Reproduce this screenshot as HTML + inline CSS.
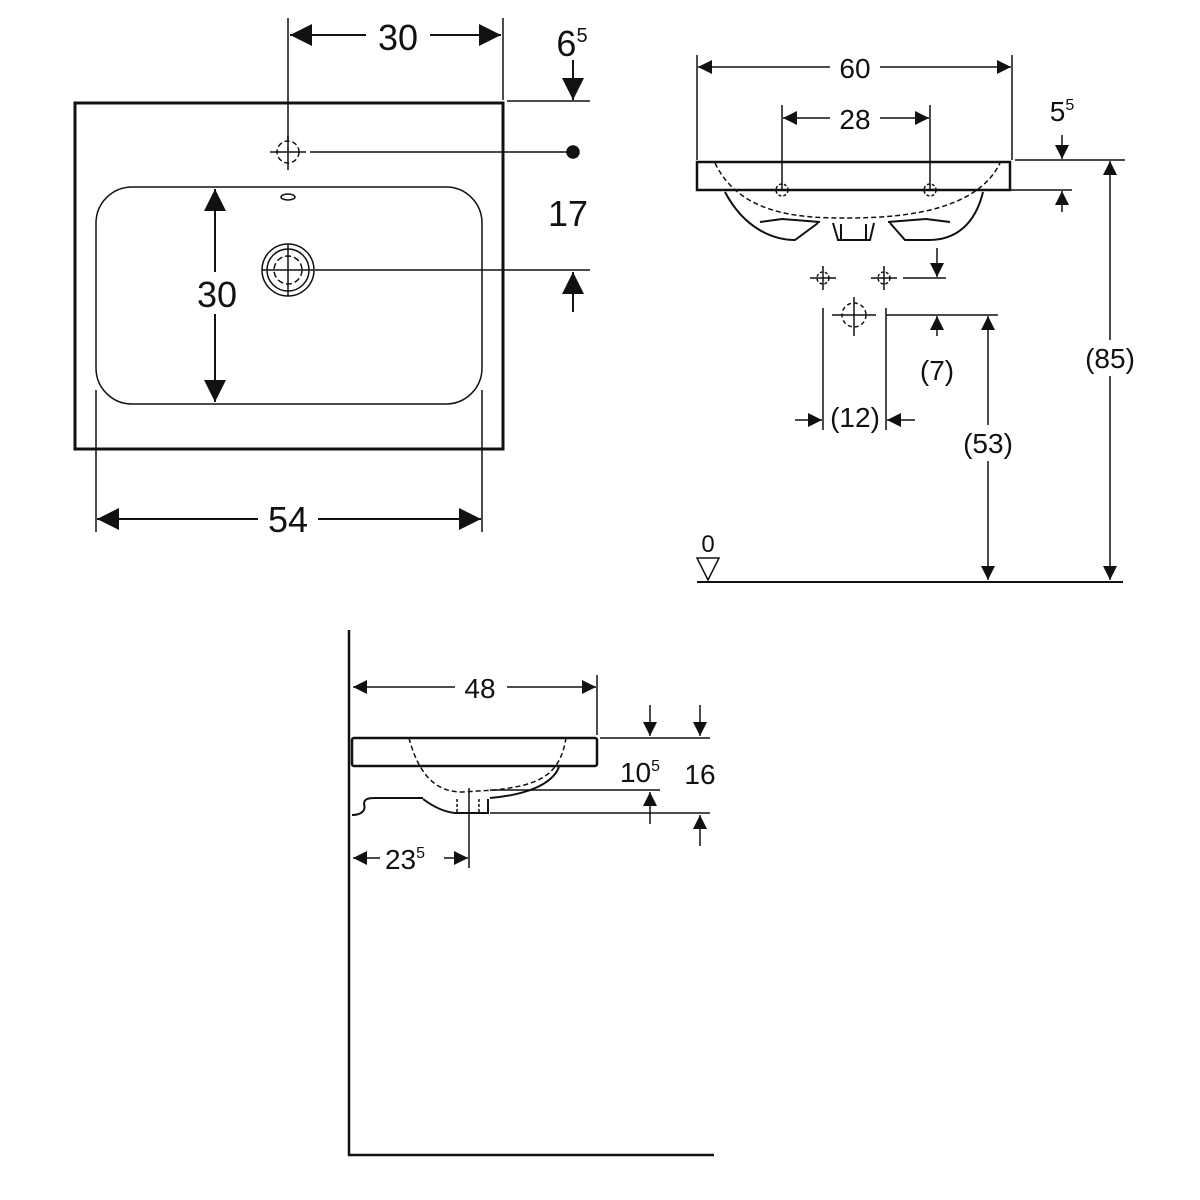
<!DOCTYPE html>
<html><head><style>html,body{margin:0;padding:0;background:#fff}svg{display:block}</style></head><body>
<svg width="1200" height="1200" viewBox="0 0 1200 1200" xmlns="http://www.w3.org/2000/svg" font-family="Liberation Sans, sans-serif" fill="none" stroke="#111">
<defs>
<marker id="a" viewBox="0 0 10 10" refX="10" refY="5" markerWidth="18" markerHeight="14" markerUnits="userSpaceOnUse" orient="auto-start-reverse"><path d="M0,0 L10,5 L0,10z" fill="#111" stroke="none"/></marker>
<marker id="b" viewBox="0 0 10 10" refX="10" refY="5" markerWidth="26" markerHeight="22" markerUnits="userSpaceOnUse" orient="auto-start-reverse"><path d="M0,0 L10,5 L0,10z" fill="#111" stroke="none"/></marker>
</defs>
<!-- TOP LEFT -->
<g stroke-width="1.5">
<rect x="75" y="103" width="428" height="346" stroke-width="3"/>
<rect x="96" y="187" width="386" height="217" rx="36" stroke-width="1.5"/>
<line x1="288" y1="18" x2="288" y2="140"/><line x1="503" y1="18" x2="503" y2="100"/>
<line x1="290" y1="35" x2="501" y2="35" marker-start="url(#b)" marker-end="url(#b)" stroke-width="2"/>
<rect x="366" y="16" width="64" height="40" fill="#fff" stroke="none"/>
<circle cx="288" cy="152" r="11" stroke-dasharray="5 3"/>
<line x1="270" y1="152" x2="306" y2="152"/><line x1="288" y1="136" x2="288" y2="170"/>
<line x1="310" y1="152" x2="573" y2="152"/><circle cx="573" cy="152" r="6" fill="#111"/>
<ellipse cx="288" cy="197" rx="7" ry="3"/>
<circle cx="288" cy="270" r="26"/><circle cx="288" cy="270" r="21"/><circle cx="288" cy="270" r="14" stroke-dasharray="6 3"/>
<line x1="262" y1="270" x2="314" y2="270"/><line x1="288" y1="244" x2="288" y2="296"/>
<line x1="507" y1="101" x2="590" y2="101"/>
<line x1="573" y1="60" x2="573" y2="100" marker-end="url(#b)" stroke-width="2"/>
<line x1="315" y1="270" x2="590" y2="270"/>
<line x1="573" y1="312" x2="573" y2="272" marker-end="url(#b)" stroke-width="2"/>
<line x1="215" y1="189" x2="215" y2="402" marker-start="url(#b)" marker-end="url(#b)" stroke-width="2"/>
<rect x="188" y="272" width="56" height="42" fill="#fff" stroke="none"/>
<line x1="96" y1="390" x2="96" y2="532"/><line x1="482" y1="390" x2="482" y2="532"/>
<line x1="97" y1="519" x2="481" y2="519" marker-start="url(#b)" marker-end="url(#b)" stroke-width="2"/>
<rect x="258" y="500" width="60" height="40" fill="#fff" stroke="none"/>
</g>
<g fill="#111" stroke="none" font-size="36" text-anchor="middle">
<text x="398" y="50">30</text>
<text x="572" y="56">6<tspan font-size="20" dy="-14">5</tspan></text>
<text x="568" y="226">17</text>
<text x="217" y="307">30</text>
<text x="288" y="532">54</text>
</g>
<!-- TOP RIGHT -->
<g stroke-width="1.5">
<line x1="697" y1="55" x2="697" y2="160"/><line x1="1012" y1="55" x2="1012" y2="160"/>
<line x1="698" y1="67" x2="1011" y2="67" marker-start="url(#a)" marker-end="url(#a)" stroke-width="1.5"/>
<rect x="830" y="52" width="50" height="30" fill="#fff" stroke="none"/>
<line x1="782" y1="105" x2="782" y2="190"/><line x1="930" y1="105" x2="930" y2="190"/>
<line x1="783" y1="118" x2="929" y2="118" marker-start="url(#a)" marker-end="url(#a)"/>
<rect x="830" y="103" width="50" height="30" fill="#fff" stroke="none"/>
<rect x="697" y="162" width="313" height="28" stroke-width="2.5"/>
<path d="M715,163 C740,215 800,218 845,218 C890,218 975,215 1000,163" stroke-dasharray="5 3"/>
<path d="M725,192 C745,230 775,240 795,240 L818,223 M760,222 L782,219 L820,222 M833,223 L838,240 L870,240 L874,223 M841,224 L841,240 M866,224 L866,240 M890,223 L905,240 L929,240 C955,240 975,225 983,192 M888,222 L926,219 L950,222" stroke-width="2"/>
<circle cx="782" cy="190" r="6" stroke-dasharray="3 2"/><circle cx="930" cy="190" r="6" stroke-dasharray="3 2"/>
<line x1="945" y1="190" x2="1072" y2="190"/><line x1="1015" y1="160" x2="1125" y2="160"/>
<line x1="1062" y1="135" x2="1062" y2="159" marker-end="url(#a)"/>
<line x1="1062" y1="212" x2="1062" y2="191" marker-end="url(#a)"/>
<g><circle cx="823" cy="278" r="6" stroke-dasharray="3 2"/><line x1="810" y1="278" x2="836" y2="278"/><line x1="823" y1="266" x2="823" y2="290"/></g>
<g><circle cx="884" cy="278" r="6" stroke-dasharray="3 2"/><line x1="871" y1="278" x2="897" y2="278"/><line x1="884" y1="266" x2="884" y2="290"/></g>
<line x1="903" y1="278" x2="946" y2="278"/>
<line x1="937" y1="248" x2="937" y2="277" marker-end="url(#a)"/>
<circle cx="854" cy="315" r="12" stroke-dasharray="4 3"/><line x1="832" y1="315" x2="876" y2="315"/><line x1="854" y1="297" x2="854" y2="336"/>
<line x1="823" y1="308" x2="823" y2="430"/><line x1="886" y1="308" x2="886" y2="430"/>
<line x1="886" y1="315" x2="998" y2="315"/>
<line x1="937" y1="336" x2="937" y2="316" marker-end="url(#a)"/>
<line x1="795" y1="420" x2="822" y2="420" marker-end="url(#a)"/>
<line x1="915" y1="420" x2="887" y2="420" marker-end="url(#a)"/>
<line x1="988" y1="316" x2="988" y2="580" marker-start="url(#a)" marker-end="url(#a)"/>
<rect x="958" y="425" width="62" height="36" fill="#fff" stroke="none"/>
<line x1="1110" y1="161" x2="1110" y2="580" marker-start="url(#a)" marker-end="url(#a)"/>
<rect x="1080" y="340" width="62" height="36" fill="#fff" stroke="none"/>
<line x1="697" y1="582" x2="1123" y2="582" stroke-width="2"/>
<path d="M697,558 L719,558 L708,580 Z"/>
</g>
<g fill="#111" stroke="none" font-size="28" text-anchor="middle">
<text x="855" y="78">60</text>
<text x="855" y="129">28</text>
<text x="1062" y="121">5<tspan font-size="16" dy="-11">5</tspan></text>
<text x="937" y="380">(7)</text>
<text x="855" y="427">(12)</text>
<text x="988" y="453">(53)</text>
<text x="1110" y="368">(85)</text>
<text x="708" y="552" font-size="24">0</text>
</g>
<!-- BOTTOM -->
<g stroke-width="1.5">
<line x1="349" y1="630" x2="349" y2="1156" stroke-width="2.5"/>
<line x1="348" y1="1155" x2="714" y2="1155" stroke-width="2.5"/>
<line x1="597" y1="675" x2="597" y2="735"/>
<line x1="353" y1="687" x2="596" y2="687" marker-start="url(#a)" marker-end="url(#a)"/>
<rect x="455" y="672" width="52" height="30" fill="#fff" stroke="none"/>
<rect x="352" y="738" width="245" height="28" rx="2" stroke-width="2.5"/>
<path d="M409,738 C420,780 440,792 462,792 L495,790 C540,785 560,775 566,738" stroke-dasharray="5 3"/>
<path d="M559,767 C552,785 525,795 490,798 M423,799 C435,808 445,812 455,813 L488,813 L488,799 M352,815 C362,815 366,810 364,804 C364,799 368,798 375,798 L423,798" stroke-width="2"/>
<line x1="457" y1="799" x2="457" y2="813" stroke-dasharray="3 2"/><line x1="479" y1="799" x2="479" y2="813" stroke-dasharray="3 2"/>
<line x1="469" y1="788" x2="469" y2="868"/>
<line x1="490" y1="790" x2="660" y2="790"/><line x1="490" y1="813" x2="710" y2="813"/><line x1="600" y1="738" x2="710" y2="738"/>
<line x1="650" y1="705" x2="650" y2="736" marker-end="url(#a)"/>
<line x1="650" y1="824" x2="650" y2="792" marker-end="url(#a)"/>
<line x1="700" y1="705" x2="700" y2="736" marker-end="url(#a)"/>
<line x1="700" y1="846" x2="700" y2="815" marker-end="url(#a)"/>
<line x1="353" y1="858" x2="468" y2="858" marker-start="url(#a)" marker-end="url(#a)"/>
<rect x="380" y="843" width="64" height="30" fill="#fff" stroke="none"/>
</g>
<g fill="#111" stroke="none" font-size="28" text-anchor="middle">
<text x="480" y="698">48</text>
<text x="640" y="782">10<tspan font-size="16" dy="-11">5</tspan></text>
<text x="700" y="784">16</text>
<text x="405" y="869">23<tspan font-size="16" dy="-11">5</tspan></text>
</g>
</svg>
</body></html>
